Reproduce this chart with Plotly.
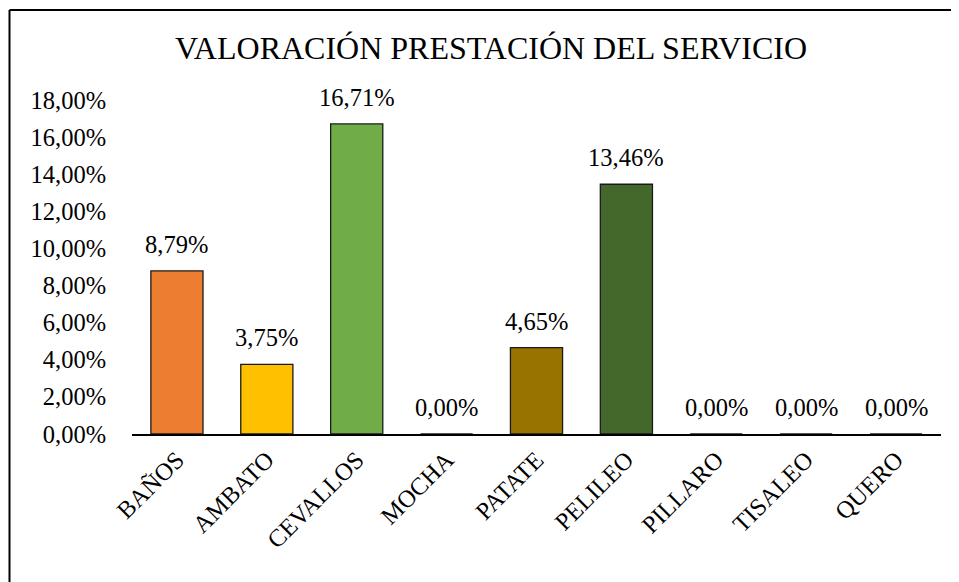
import plotly.graph_objects as go

categories = ["BAÑOS", "AMBATO", "CEVALLOS", "MOCHA", "PATATE", "PELILEO", "PILLARO", "TISALEO", "QUERO"]
values = [0.0879, 0.0375, 0.1671, 0.0, 0.0465, 0.1346, 0.0, 0.0, 0.0]
colors = ["#ED7D31", "#FFC000", "#70AD47", "#A5A5A5", "#997300", "#43682B", "#4472C4", "#264478", "#9E480E"]
y_ticks = [0, 0.02, 0.04, 0.06, 0.08, 0.10, 0.12, 0.14, 0.16, 0.18]
title_text = "VALORACIÓN PRESTACIÓN DEL SERVICIO"

FONT = "Liberation Serif"
FS = 24.5

OFF = 8  # page body margin
W, H = 959 - OFF, 582 - OFF
L = 132 - OFF
T = 100 - OFF
R = W - (941 - OFF)
B = H - (434 - OFF)

fig = go.Figure()
fig.add_trace(go.Bar(
    x=categories, y=values,
    marker=dict(color=colors, line=dict(color="#1a1a1a", width=1.3)),
    width=0.58,
    hoverinfo="skip",
))

for c, v in zip(categories, values):
    fig.add_annotation(
        x=c, y=v, xref="x", yref="y",
        text=f"{v*100:.2f}%".replace(".", ","),
        showarrow=False, yanchor="bottom", yshift=11,
        font=dict(family=FONT, size=FS, color="#000000"),
    )

pw = W - L - R
ph = H - T - B
xl = (1.5 - L) / pw
xr = (W + 30 - L) / pw
yt = 1 + (T - 2) / ph
yb = -(B + 30) / ph
fig.add_shape(type="line", xref="paper", yref="paper", x0=xl, x1=xr, y0=yt, y1=yt,
              line=dict(color="#000000", width=2))
fig.add_shape(type="line", xref="paper", yref="paper", x0=xl, x1=xl, y0=yt, y1=yb,
              line=dict(color="#000000", width=2))

fig.update_layout(
    width=W, height=H,
    margin=dict(l=L, r=R, t=T, b=B, pad=0),
    paper_bgcolor="white", plot_bgcolor="white",
    separators=",.",
    showlegend=False,
    title=dict(text=title_text, x=(491 - OFF) / W, xanchor="center", y=1 - (48 - OFF) / H, yanchor="middle",
               font=dict(family=FONT, size=32, color="#000000")),
    font=dict(family=FONT, size=FS, color="#000000"),
    xaxis=dict(
        showline=True, linecolor="#000000", linewidth=1.5,
        tickangle=-45, ticks="", showgrid=False,
        tickfont=dict(family=FONT, size=FS, color="#000000"),
    ),
    yaxis=dict(
        range=[0, 0.18], tickvals=y_ticks, tickformat=".2%",
        showline=False, showgrid=False, zeroline=False,
        ticks="outside", ticklen=20, tickcolor="rgba(0,0,0,0)",
        tickfont=dict(family=FONT, size=FS, color="#000000"),
    ),
)

fig.write_html("out.html")
